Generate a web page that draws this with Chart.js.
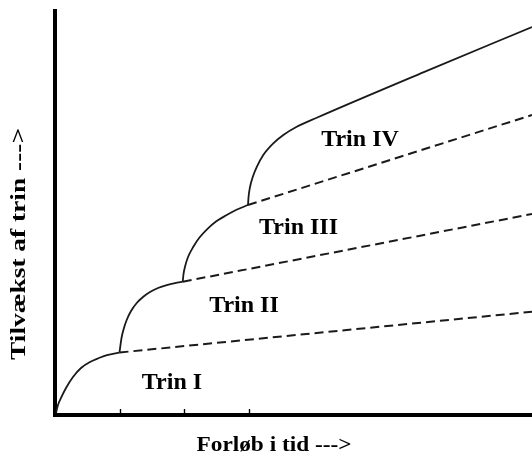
<!DOCTYPE html>
<html><head><meta charset="utf-8">
<script src="https://cdn.jsdelivr.net/npm/chart.js@4/dist/chart.umd.min.js"></script>
<style>html,body{margin:0;padding:0;background:#fff;}#wrap{width:532px;height:456px;}</style>
</head><body><div id="wrap"><canvas id="c" width="532" height="456"></canvas></div>
<script>
// ---- data (x: time, tick spacing = 1; y: growth) ----
const stageNames = ['Trin I', 'Trin II', 'Trin III', 'Trin IV'];
const xTickValues = [1, 2, 3];
const xTitle = 'Forløb i tid --->';
const yTitle = 'Tilvækst af trin --->';

const curve1X = [0.015, 0.046, 0.093, 0.170, 0.278, 0.402, 0.541, 0.680, 0.804, 0.997];
const curve1Y = [0.031, 0.155, 0.263, 0.417, 0.587, 0.726, 0.819, 0.881, 0.927, 0.966];

const curve2X = [0.997, 1.012, 1.031, 1.066, 1.108, 1.175, 1.263, 1.360, 1.468, 1.592, 1.726, 1.855, 1.974];
const curve2Y = [0.966, 1.082, 1.206, 1.345, 1.468, 1.607, 1.731, 1.824, 1.901, 1.963, 2.009, 2.040, 2.060];

const curve3X = [1.974, 1.986, 2.009, 2.056, 2.138, 2.233, 2.345, 2.488, 2.654, 2.813, 2.983];
const curve3Y = [2.060, 2.179, 2.292, 2.442, 2.601, 2.743, 2.867, 2.991, 3.091, 3.176, 3.246];

const curve4X = [2.983, 2.991, 3.014, 3.056, 3.117, 3.219, 3.374, 3.529, 3.736, 4.045, 5.700, 7.372];
const curve4Y = [3.246, 3.369, 3.524, 3.678, 3.833, 4.019, 4.199, 4.328, 4.456, 4.595, 5.300, 5.997];

const dash1X = [0.997, 7.372];
const dash1Y = [0.966, 1.597];
const dash2X = [1.974, 7.372];
const dash2Y = [2.060, 3.107];
const dash3X = [2.983, 7.372];
const dash3Y = [3.246, 4.637];

// label anchors (centre of each stage label)
const labelX = [1.808, 2.921, 3.764, 4.714];
const labelY = [0.495, 1.685, 2.890, 4.250];

const pts = (xs, ys) => xs.map((x, i) => ({ x: x, y: ys[i] }));

const solid = (xs, ys) => ({
  data: pts(xs, ys), borderColor: '#1a1a1a', borderWidth: 1.8,
  pointRadius: 0, fill: false, cubicInterpolationMode: 'monotone'
});
const dashed = (xs, ys) => ({
  data: pts(xs, ys), borderColor: '#1a1a1a', borderWidth: 2,
  borderDash: [9, 5], pointRadius: 0, fill: false, tension: 0
});

const SERIF = '"Liberation Serif", "Times New Roman", serif';

function stretchedText(ctx, text, x, y, width) {
  const w = ctx.measureText(text).width;
  ctx.save();
  ctx.translate(x, y);
  ctx.scale(width / w, 1);
  ctx.fillText(text, 0, 0);
  ctx.restore();
}

const decor = {
  id: 'decor',
  afterDraw(chart) {
    const ctx = chart.ctx, xs = chart.scales.x, ys = chart.scales.y, ca = chart.chartArea;
    ctx.save();
    // inward tick marks on the time axis
    ctx.strokeStyle = '#000';
    ctx.lineWidth = 1.4;
    xTickValues.forEach(v => {
      const px = Math.round(xs.getPixelForValue(v)) + 0.5;
      ctx.beginPath();
      ctx.moveTo(px, ca.bottom);
      ctx.lineTo(px, ca.bottom - 6);
      ctx.stroke();
    });
    // stage labels
    ctx.fillStyle = '#000';
    ctx.textAlign = 'center';
    ctx.textBaseline = 'middle';
    ctx.font = 'bold 24px ' + SERIF;
    stageNames.forEach((t, i) => {
      ctx.fillText(t, xs.getPixelForValue(labelX[i]), ys.getPixelForValue(labelY[i]));
    });
    // axis titles
    ctx.font = 'bold 21px ' + SERIF;
    ctx.textBaseline = 'alphabetic';
    stretchedText(ctx, xTitle, 274, 451, 155);
    ctx.translate(25, 244);
    ctx.rotate(-Math.PI / 2);
    stretchedText(ctx, yTitle, 0, 0, 232);
    ctx.restore();
  }
};

new Chart(document.getElementById('c'), {
  type: 'line',
  data: {
    datasets: [
      solid(curve1X, curve1Y), solid(curve2X, curve2Y),
      solid(curve3X, curve3Y), solid(curve4X, curve4Y),
      dashed(dash1X, dash1Y), dashed(dash2X, dash2Y), dashed(dash3X, dash3Y)
    ]
  },
  options: {
    responsive: false, animation: false, devicePixelRatio: 1,
    layout: { padding: { left: 55, right: 0, top: 11, bottom: 41 } },
    plugins: { legend: { display: false }, tooltip: { enabled: false } },
    scales: {
      x: { type: 'linear', min: 0, max: 7.372,
           afterFit(s) { s.height = 0; },
           ticks: { display: false }, grid: { display: false },
           border: { display: true, color: '#000', width: 4 } },
      y: { type: 'linear', min: 0, max: 6.245,
           afterFit(s) { s.width = 0; },
           ticks: { display: false }, grid: { display: false },
           border: { display: true, color: '#000', width: 4 } }
    }
  },
  plugins: [decor]
});
</script>
</body></html>
